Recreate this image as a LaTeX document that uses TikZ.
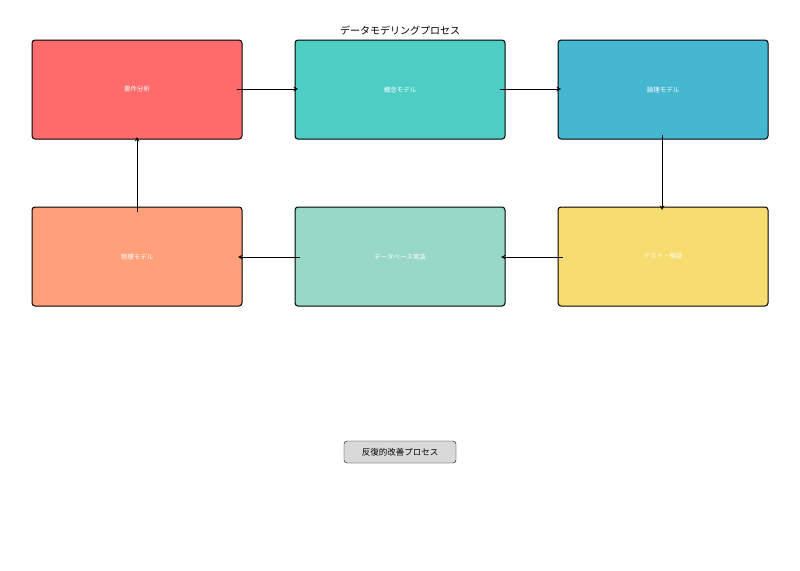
\documentclass[tikz,border=0pt]{standalone}
\usepackage{fontspec}
\newfontfamily\cjk{Noto Sans CJK JP}
\begin{document}
\begin{tikzpicture}[x=1pt,y=-1pt,
  stage/.style={draw=black,line width=1pt,rounded corners=3pt,minimum width=210pt,minimum height=99pt,inner sep=0pt,text=white,font=\cjk\fontsize{6.5}{8}\selectfont},
  arr/.style={->,>=stealth,line width=1pt}]
\useasboundingbox (0,0) rectangle (800,570);
\definecolor{c1}{HTML}{FF6B6B}\definecolor{c2}{HTML}{4ECDC4}\definecolor{c3}{HTML}{45B7D1}
\definecolor{c4}{HTML}{F7DC6F}\definecolor{c5}{HTML}{98D8C8}\definecolor{c6}{HTML}{FFA07A}
\node[font=\cjk\fontsize{10}{12}\selectfont] (title) at (400,31) {データモデリングプロセス};
\node[stage,fill=c1] (a) at (137,89.5) {要件分析};
\node[stage,fill=c2] (b) at (400,89.5) {概念モデル};
\node[stage,fill=c3] (c) at (663,89.5) {論理モデル};
\node[stage,fill=c4] (d) at (663,256.5) {テスト・検証};
\node[stage,fill=c5] (e) at (400,256.5) {データベース実装};
\node[stage,fill=c6] (f) at (137,256.5) {物理モデル};
\coordinate (a1) at (237,89); \coordinate (b0) at (298,89);
\coordinate (b1) at (500,89); \coordinate (c0) at (561,89);
\coordinate (c1) at (662,135); \coordinate (d0) at (662,210);
\coordinate (d1) at (563,257); \coordinate (e0) at (501,257);
\coordinate (e1) at (300,257); \coordinate (f0) at (238,257);
\coordinate (f1) at (137,212); \coordinate (a0) at (137,137);
\draw[arr] (a1)--(b0); \draw[arr] (b1)--(c0); \draw[arr] (c1)--(d0);
\draw[arr] (d1)--(e0); \draw[arr] (e1)--(f0); \draw[arr] (f1)--(a0);
\node[draw=black,fill=black!15,rounded corners=3pt,minimum width=112pt,minimum height=22pt,inner sep=2pt,font=\cjk\fontsize{8.5}{10}\selectfont] (loop) at (400,452) {反復的改善プロセス};
\end{tikzpicture}
\end{document}
